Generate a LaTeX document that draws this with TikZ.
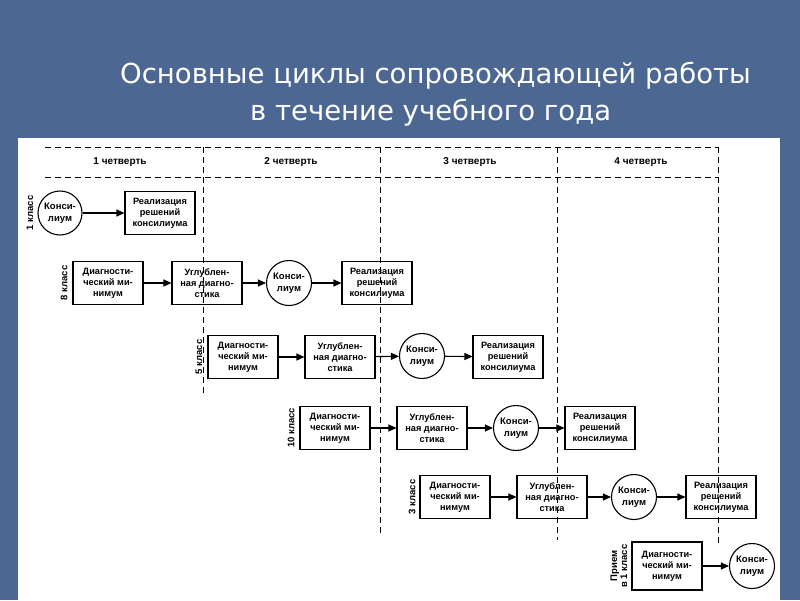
\documentclass[tikz,border=0pt]{standalone}
\usepackage{fontspec}
\setmainfont{Liberation Sans}
\newfontfamily\ttlfont{DejaVu Sans}
\usetikzlibrary{arrows.meta}
\begin{document}
\begin{tikzpicture}[x=1pt,y=-1pt,
  bx/.style={draw,line width=1.1pt,minimum width=70pt,minimum height=43pt,align=center,inner sep=0pt,font=\bfseries\fontsize{9.2}{11}\selectfont},
  cr/.style={draw,circle,line width=1.1pt,minimum size=45pt,align=center,inner sep=0pt,font=\bfseries\fontsize{9.5}{11.5}\selectfont},
  lb/.style={rotate=90,font=\bfseries\fontsize{9.5}{10}\selectfont},
  ar/.style={-{Triangle[length=8pt,width=7pt]},line width=1.1pt},
  dl/.style={dash pattern=on 6pt off 4pt,line width=1pt},
  hd/.style={font=\bfseries\fontsize{10}{11}\selectfont},
  tt/.style={white,font=\ttlfont\fontsize{27.5}{30}\selectfont,anchor=west,inner sep=0pt}]
\useasboundingbox (0,0) rectangle (800,600);
\fill[fill={rgb,255:red,76;green,104;blue,146}] (0,0) rectangle (800,600);
\fill[white] (18,138) rectangle (780,600);
\node[tt] (t1) at (120,76) {Основные циклы сопровождающей работы};
\node[tt] (t2) at (250,113) {в течение учебного года};
% grid
\draw[dl] (45,147) -- (718,147);
\draw[dl] (45,177) -- (718,177);
\draw[dl] (203,147) -- (203,395);
\draw[dl] (380,147) -- (380,535);
\draw[dl] (557,147) -- (557,540);
\draw[dl] (718,147) -- (718,545);
\node[hd] (q1) at (120,162) {1 четверть};
\node[hd] (q2) at (291,162) {2 четверть};
\node[hd] (q3) at (470,162) {3 четверть};
\node[hd] (q4) at (641,162) {4 четверть};
% row 1
\node[lb] (l1) at (30,213) {1 класс};
\node[cr,minimum size=44pt] (c1) at (60,213) {Конси-\\лиум};
\node[bx] (r1) at (160,213) {Реализация\\решений\\консилиума};
\draw[ar] (c1) -- (r1);
% row 2
\node[lb] (l2) at (64,283) {8 класс};
\node[bx] (d2) at (108,283) {Диагности-\\ческий ми-\\нимум};
\node[bx] (u2) at (207,283) {Углублен-\\ная диагно-\\стика};
\node[cr] (c2) at (289,283) {Конси-\\лиум};
\node[bx] (r2) at (377,283) {Реализация\\решений\\консилиума};
\draw[ar] (d2) -- (u2); \draw[ar] (u2) -- (c2); \draw[ar] (c2) -- (r2);
% row 3
\node[lb] (l3) at (199,357) {5 класс};
\node[bx] (d3) at (243,357) {Диагности-\\ческий ми-\\нимум};
\node[bx] (u3) at (340,357) {Углублен-\\ная диагно-\\стика};
\node[cr] (c3) at (422,356) {Конси-\\лиум};
\node[bx] (r3) at (508,357) {Реализация\\решений\\консилиума};
\draw[ar] (d3) -- (u3); \draw[ar] (u3) -- (c3); \draw[ar] (c3) -- (r3);
% row 4
\node[lb] (l4) at (291,428) {10 класс};
\node[bx] (d4) at (335,428) {Диагности-\\ческий ми-\\нимум};
\node[bx] (u4) at (432,428) {Углублен-\\ная диагно-\\стика};
\node[cr] (c4) at (516,428) {Конси-\\лиум};
\node[bx] (r4) at (600,428) {Реализация\\решений\\консилиума};
\draw[ar] (d4) -- (u4); \draw[ar] (u4) -- (c4); \draw[ar] (c4) -- (r4);
% row 5
\node[lb] (l5) at (412,497) {3 класс};
\node[bx] (d5) at (455,497) {Диагности-\\ческий ми-\\нимум};
\node[bx] (u5) at (552,497) {Углублен-\\ная диагно-\\стика};
\node[cr] (c5) at (634,497) {Конси-\\лиум};
\node[bx] (r5) at (721,497) {Реализация\\решений\\консилиума};
\draw[ar] (d5) -- (u5); \draw[ar] (u5) -- (c5); \draw[ar] (c5) -- (r5);
% row 6
\node[lb,align=center] (l6) at (619,566) {Прием\\в 1 класс};
\node[bx,minimum height=48pt] (d6) at (667,566) {Диагности-\\ческий ми-\\нимум};
\node[cr] (c6) at (752,566) {Конси-\\лиум};
\draw[ar] (d6) -- (c6);
\end{tikzpicture}
\end{document}
